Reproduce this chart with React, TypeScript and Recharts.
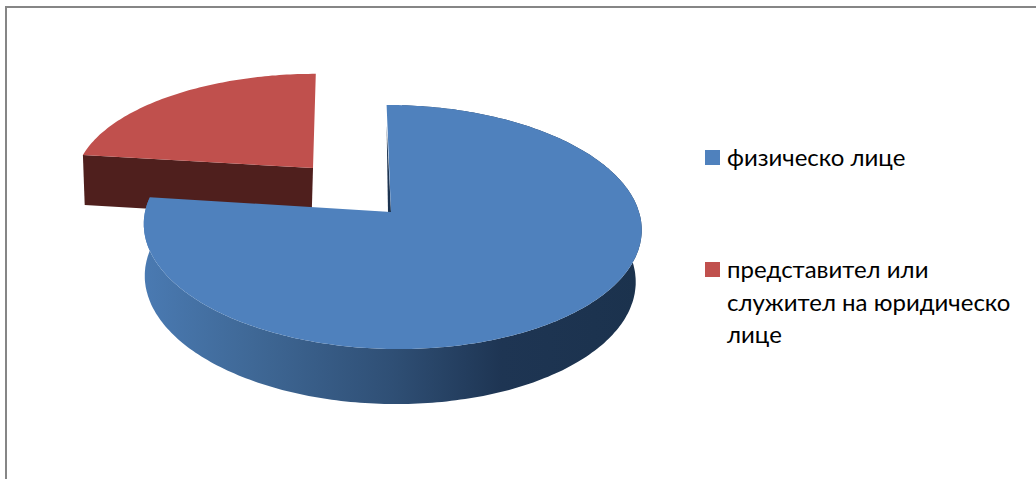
import React from 'react';
import { PieChart, Pie, Legend } from 'recharts';

const categories = ['физическо лице', 'представител или служител на юридическо лице'];
const values = [77, 23];
const colors = ['#4f81bd', '#c0504d'];

// Painting order: the back slice first, so that the front slice covers it.
const table = categories.map((name, i) => ({ name, value: values[i], fill: colors[i] })).reverse();

const CX = 392;
const CY = 212;
const RADIUS = 247;
const FLATTEN = 0.4866;
const PERSPECTIVE = 0.123;

const looks: Record<string, any> = {
  '#4f81bd': { dx: 0, dy: 0, sx: 1, sy: 1, shear: -0.05, tipDx: -1, rim: 'url(#blueRim)', wall: '#1c3350' },
  '#c0504d': { dx: -79, dy: -44, sx: 0.955, sy: 0.88, shear: 0.03, tipDx: 0, rim: 'none', wall: '#4f1f1d' },
};

function Slice3D(props: any) {
  const { cx, cy, outerRadius, startAngle, endAngle, fill } = props;
  const look = looks[fill];
  const ry = outerRadius * FLATTEN;
  const top = (deg: number, r = 1) => {
    const a = (deg * Math.PI) / 180;
    const u = r * Math.cos(a);
    const v = r * Math.sin(a);
    const w = 1 + PERSPECTIVE * v;
    const up = (look.sy * ry * v) / w;
    return [cx + look.dx + (look.sx * outerRadius * u) / w + look.shear * up, cy + look.dy - up];
  };
  const tip = [cx + look.dx + look.tipDx, cy + look.dy];
  const drop = ([x, y]: number[]) => [cx + 0.986 * (x - cx) - 2.5, y + 50 + ((y - 155) * 5) / 194];
  const arc: number[][] = [];
  const steps = Math.ceil(Math.abs(endAngle - startAngle));
  for (let i = 0; i <= steps; i++) arc.push(top(startAngle + ((endAngle - startAngle) * i) / steps));
  const path = (pts: number[][]) => pts.map((p) => p.map((n) => n.toFixed(1)).join(',')).join(' ');
  const rimArc = arc.slice(4);
  const rim = [...rimArc, ...[...rimArc].reverse().map(drop)];
  const isBack = fill === '#c0504d';
  const edge = arc[0];
  return (
    <g>
      <defs>
        <linearGradient id="blueRim" gradientUnits="userSpaceOnUse" x1="143" y1="0" x2="641" y2="0">
          <stop offset="0" stopColor="#4a7ab2" />
          <stop offset="0.22" stopColor="#3f6896" />
          <stop offset="0.5" stopColor="#2f4f75" />
          <stop offset="0.72" stopColor="#1e3553" />
          <stop offset="1" stopColor="#1b324d" />
        </linearGradient>
      </defs>
      <polygon points={path(rim)} fill={look.rim} />
      {isBack ? (
        <polygon points={path([tip, edge, drop(edge), drop(tip)])} fill={look.wall} />
      ) : (
        <polygon points={path([[tip[0] - 3, tip[1]], [edge[0], edge[1] + 20], tip])} fill={look.wall} />
      )}
      <polygon points={path([tip, ...arc])} fill={fill} />
    </g>
  );
}

function LegendBox({ payload }: any) {
  return (
    <div style={{ position: 'relative', width: 330, height: 230, fontFamily: 'Lato, "Noto Sans", sans-serif', fontSize: 24, lineHeight: '32.5px', color: '#000' }}>
      {[...(payload || [])].reverse().map((item: any, i: number) => (
        <div key={item.value} style={{ position: 'absolute', left: 0, top: i === 0 ? 0 : 112, width: 312 }}>
          <span style={{ position: 'absolute', left: 0, top: 9, width: 15, height: 15, background: item.color }} />
          <div style={{ marginLeft: 22 }}>{item.value}</div>
        </div>
      ))}
    </div>
  );
}

export default function App() {
  return (
    <div style={{ position: 'absolute', left: 0, top: 0, width: 1036, height: 479, background: '#fff', overflow: 'hidden' }}>
      <div style={{ position: 'absolute', left: 5, top: 6, width: 1031, height: 473, borderLeft: '2px solid #868686', borderTop: '2px solid #868686', boxSizing: 'border-box' }} />
      <PieChart width={1036} height={479} margin={{ top: 0, right: 0, bottom: 0, left: 0 }} style={{ position: 'absolute', left: 0, top: 0 }}>
        <Pie
          data={table}
          dataKey="value"
          nameKey="name"
          cx={CX}
          cy={CY}
          innerRadius={0}
          outerRadius={RADIUS}
          startAngle={172.8}
          endAngle={-187.2}
          stroke="none"
          shape={Slice3D}
          isAnimationActive={false}
        />
        <Legend
          layout="vertical"
          align="right"
          verticalAlign="top"
          content={<LegendBox />}
          wrapperStyle={{ left: 705, top: 141, width: 330, right: 'auto', bottom: 'auto' }}
        />
      </PieChart>
    </div>
  );
}
